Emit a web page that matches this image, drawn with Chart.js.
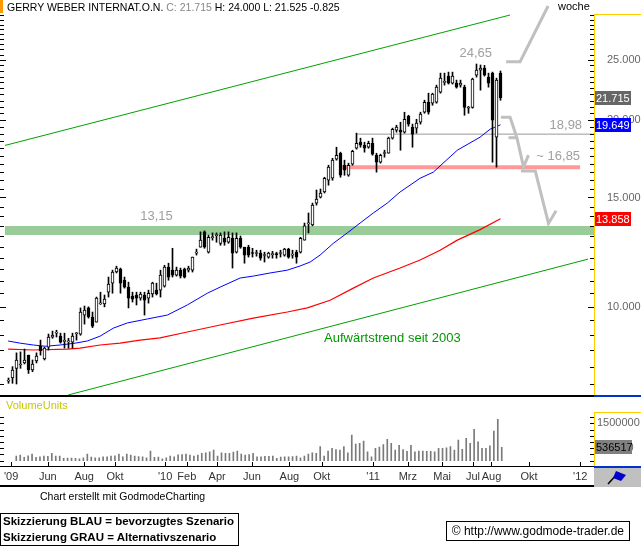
<!DOCTYPE html>
<html>
<head>
<meta charset="utf-8">
<script src="https://cdn.jsdelivr.net/npm/chart.js@4.4.1/dist/chart.umd.min.js"></script>
<style>
  body { margin: 0; background: #fff; font-family: "Liberation Sans", Arial, sans-serif; }
  #wrap { position: relative; width: 641px; height: 546px; overflow: hidden; background: #fff; }
  #wrap canvas { position: absolute; left: 0; }
  .abs { position: absolute; white-space: nowrap; }
</style>
</head>
<body>
<div id="wrap">
  <canvas id="priceChart" width="641" height="398" style="top:0"></canvas>
  <canvas id="volChart" width="641" height="90" style="top:398px"></canvas>

  <div class="abs" style="left:0;top:0;width:3px;height:13px;background:#ff9900"></div>
  <div class="abs" style="left:7px;top:1px;font-size:10.5px;color:#000">GERRY WEBER INTERNAT.O.N. <span style="color:#888">C: 21.715</span> H: 24.000 L: 21.525 -0.825</div>
  <div class="abs" style="left:558px;top:0;font-size:11px;color:#000">woche</div>
  <div class="abs" style="left:594px;top:14px;width:47px;height:1px;background:#ffcc00"></div>
  <div class="abs" style="left:0;top:395px;width:594px;height:2px;background:#000"></div>
  <div class="abs" style="left:594px;top:395px;width:47px;height:2px;background:#0033cc"></div>
  <div class="abs" style="left:6px;top:399px;font-size:11px;color:#c8c800">VolumeUnits</div>
  <div class="abs" style="left:594px;top:412px;width:47px;height:1px;background:#ffcc00"></div>
  <div class="abs" style="left:0;top:466px;width:594px;height:1px;background:#000"></div>
  <div class="abs" style="left:594px;top:466px;width:47px;height:2px;background:#0033cc"></div>
  <div class="abs" style="left:0;top:485px;width:594px;height:2px;background:#000"></div>
  <div class="abs" style="left:594px;top:468px;width:47px;height:19px;background:#c0c0c0">
    <svg width="47" height="19"><line x1="14" y1="16" x2="24" y2="5" stroke="#000" stroke-width="1.5"/><polygon points="22,3 32,7 27,13 19,10" fill="#0000cc"/></svg>
  </div>
  <div class="abs" style="left:40px;top:490px;font-size:10.5px;color:#000">Chart erstellt mit GodmodeCharting</div>
  <div class="abs" style="left:0;top:513px;width:235px;height:31px;border:1px solid #000;font-weight:bold;font-size:11.5px;line-height:15.5px;padding-left:2px">Skizzierung BLAU = bevorzugtes Szenario<br>Skizzierung GRAU = Alternativszenario</div>
  <div class="abs" style="right:11px;top:521px;height:18px;border:1px solid #000;font-size:12px;line-height:18px;padding:0 5px">© http://www.godmode-trader.de</div>
</div>

<script>
// weekly candles, week 0 = first bar (spring 2009)
const openPrices = [7.58,7.67,7.95,8.05,8.11,8.35,7.90,8.17,8.63,8.23,
  8.60,8.93,9.06,8.96,8.79,8.77,8.76,9.04,9.03,9.69,
  9.95,9.62,9.44,10.10,10.10,10.55,10.91,11.37,11.50,11.03,
  10.75,10.40,10.44,10.32,10.44,10.32,10.48,10.63,10.63,10.79,
  11.58,11.45,11.24,11.45,11.50,11.45,11.45,12.20,12.47,13.20,
  12.24,12.92,13.02,12.65,12.89,12.70,12.89,12.24,12.89,12.47,
  12.47,12.20,12.18,12.20,12.09,12.02,12.13,12.15,12.18,12.11,
  12.38,12.11,12.24,12.24,12.80,13.60,13.54,14.69,15.02,15.31,
  15.99,16.11,17.29,17.68,16.91,16.29,16.98,18.01,18.42,18.21,
  18.08,18.35,17.55,17.10,17.66,17.68,18.70,19.26,19.26,19.12,
  20.29,19.48,19.41,19.84,20.59,21.37,21.29,21.37,22.18,23.00,
  23.55,22.94,22.94,22.77,22.60,20.90,20.97,23.64,24.08,24.26,
  23.46,23.81,18.77,23.81];
const highPrices = [7.67,8.00,8.42,8.45,8.54,8.35,8.20,8.42,8.83,8.60,
  9.03,9.13,9.16,9.06,9.06,8.89,9.06,9.08,9.95,10.02,
  9.99,9.80,10.36,10.55,10.44,11.16,11.45,11.62,11.54,11.16,
  10.95,10.55,10.55,10.55,10.55,10.63,10.95,10.91,11.45,11.66,
  11.75,12.42,11.58,11.54,11.54,11.62,12.02,12.38,13.20,13.25,
  13.04,13.15,13.15,13.15,13.20,13.20,13.15,13.15,13.00,12.47,
  12.56,12.42,12.33,12.33,12.24,12.24,12.28,12.24,12.33,12.42,
  12.42,12.33,12.33,12.94,13.64,14.16,14.69,15.42,15.48,16.17,
  16.91,17.35,18.08,17.75,17.23,17.04,17.88,19.05,18.70,18.42,
  18.49,18.70,17.68,17.62,17.88,18.77,19.41,19.62,19.84,20.59,
  20.36,19.70,20.06,20.59,21.53,22.10,22.10,22.77,23.81,23.81,
  23.90,23.90,23.20,23.20,22.77,21.05,23.37,24.63,24.54,24.50,
  23.81,23.90,23.37,24.00];
const lowPrices = [7.52,7.52,7.50,7.95,8.08,7.80,7.85,8.11,8.35,8.20,
  8.51,8.89,8.93,8.73,8.57,8.57,8.57,8.83,8.99,9.37,
  9.58,9.25,9.44,10.08,9.99,10.36,10.51,11.33,10.51,10.71,
  9.95,10.17,10.06,10.24,9.69,10.13,10.36,10.44,10.36,10.75,
  11.03,11.16,11.20,11.12,11.12,11.37,11.37,12.11,12.47,12.42,
  12.20,12.80,12.70,12.56,12.56,12.65,11.54,12.20,12.42,11.75,
  12.02,12.02,12.06,11.88,11.80,11.97,11.97,11.97,12.02,12.06,
  11.97,11.97,11.75,12.20,12.80,13.15,13.50,14.58,14.97,15.25,
  15.70,15.99,17.23,16.17,16.29,16.23,16.91,17.95,18.08,17.75,
  18.01,17.55,16.48,17.04,17.42,17.68,18.63,19.12,17.88,19.05,
  19.55,18.08,19.05,19.70,20.51,20.44,21.13,21.29,22.10,22.77,
  22.86,22.86,22.52,22.60,20.36,20.51,20.90,23.46,22.35,23.55,
  22.60,17.10,16.79,21.525];
const closePrices = [7.60,7.90,8.20,8.08,8.20,7.90,8.08,8.32,8.48,8.57,
  8.93,8.99,9.09,8.76,8.80,8.78,8.96,9.06,9.80,9.87,
  9.62,9.30,10.32,10.13,10.28,10.87,11.37,11.54,10.91,10.75,
  10.32,10.28,10.32,10.48,10.24,10.51,10.91,10.48,11.24,11.58,
  11.16,11.24,11.45,11.20,11.16,11.54,12.02,12.24,12.80,12.47,
  12.94,12.94,13.04,13.04,12.70,12.94,12.20,12.89,12.47,12.11,
  12.11,12.18,12.20,11.97,12.11,12.20,12.15,12.13,12.20,12.38,
  12.02,12.13,12.02,12.89,13.50,13.64,14.58,14.91,15.25,16.11,
  16.79,17.23,17.55,16.29,16.60,16.91,17.81,18.35,18.21,18.01,
  18.35,17.62,17.10,17.55,17.70,18.70,19.33,19.48,19.12,20.06,
  19.70,18.98,19.77,20.44,21.37,20.59,22.02,22.60,23.37,23.03,
  22.94,23.55,22.60,22.94,20.97,20.95,23.29,24.08,24.26,23.64,
  22.94,19.99,23.20,21.715];
// weekly volume in thousand units
const volumeThousands = [187,227,134,200,267,134,160,187,180,294,
  187,187,94,107,110,94,80,120,267,150,
  120,120,160,160,187,200,267,160,267,227,
  187,170,160,120,388,134,150,80,120,187,
  160,240,250,267,227,187,227,294,320,361,
  428,187,321,300,294,348,388,267,227,250,
  294,160,160,174,180,187,94,147,160,160,
  170,187,120,187,267,321,300,562,187,388,
  495,450,428,562,321,1030,668,700,789,361,
  160,495,550,642,856,695,428,615,450,374,
  615,361,388,388,380,374,361,495,495,520,
  562,428,829,455,896,700,1257,762,495,495,
  600,1190,1658,536.517];

// moving averages (week, price)
const ma50Weeks = [-0.1,2.9,6.2,9.2,12.9,16.7,19.7,22.9,26.2,29.7,34.7,39.7,44.7,49.7,52.9,57.9,61.2,65.4,69.7,72.9,75.4,77.9,81.2,84.7,87.9,91.2,94.7,97.9,102.9,106.2,112.2,117.9,120.4,123];
const ma50Values = [8.80,8.73,8.67,8.63,8.67,8.73,8.80,8.96,9.23,9.41,9.55,9.69,10.06,10.51,10.75,11.12,11.20,11.33,11.45,11.63,11.80,12.11,12.65,13.15,13.64,14.16,14.69,15.31,16.11,16.48,17.88,18.77,19.33,19.649];
const ma200Weeks = [-0.1,6.2,14.7,17.9,22.9,27.9,32.9,37.9,44.7,52.9,61.2,69.7,74.7,80.4,86.2,91.2,97.9,102.9,107.9,112.2,117.9,123];
const ma200Values = [8.54,8.51,8.54,8.57,8.67,8.73,8.83,8.90,9.10,9.34,9.58,9.80,9.95,10.24,10.71,11.12,11.54,11.89,12.33,12.80,13.31,13.858];

// trend channel and horizontal levels
const upperTrendWeeks = [-0.88, 125.4];
const upperTrendValues = [18.2, 29.55];
const lowerTrendWeeks = [14.9, 144.9];
const lowerTrendValues = [7.20, 11.93];
const bandLevel = 13.27;
const supportLevel = 16.78;
const resistanceLevel = 18.98;

// scenario sketches (grey)
const scenarioUpWeeks = [124.4, 127.9, 134.9];
const scenarioUpValues = [24.84, 24.84, 30.56];
const scenarioDownAWeeks = [123.1, 125.4, 127.1, 128.75, 130.0];
const scenarioDownAValues = [20.21, 20.21, 18.73, 16.81, 17.56];
const scenarioHookWeeks = [125.0, 127.1];
const scenarioHookValues = [18.73, 18.73];
const scenarioDownBWeeks = [128.1, 131.7, 135.0, 136.9];
const scenarioDownBValues = [16.55, 16.55, 13.62, 14.28];

// axis ticks
const priceTickValues = [10, 15, 20, 25];
const volumeTickValues = [500000, 1500000];
const monthTickLabels = ["'09", 'Jun', 'Aug', 'Okt', "'10", 'Feb', 'Apr', 'Jun', 'Aug', 'Okt', "'11", 'Mrz', 'Mai', 'Jul', 'Aug', 'Okt', "'12"];
const monthTickWeeks = [-1.3, 8.0, 17.2, 25.0, 37.7, 43.2, 50.9, 59.7, 69.2, 77.4, 90.4, 99.2, 107.9, 115.7, 120.4, 129.9, 142.9];

const xMin = -0.875, xMax = 146.375;
const yMin = 7.2, yMax = 29.66;

Chart.defaults.font.family = '"Liberation Sans", Arial, sans-serif';

const weeks = closePrices.map((c, i) => i);
const isUp = closePrices.map((c, i) => c >= openPrices[i]);
const pts = (ws, vs) => ws.map((w, i) => ({ x: w, y: vs[i] }));
const flat = (v, from, to) => [{ x: from, y: v }, { x: to, y: v }];

function lineSet(data, color, width, order, extra) {
  return Object.assign({
    type: 'line', data, borderColor: color, borderWidth: width,
    pointRadius: 0, tension: 0, fill: false, order
  }, extra || {});
}

const notes = [
  { text: '13,15', w: 37.0, v: 13.64, dy: 0, align: 'center', color: '#a0a0a0' },
  { text: '24,65', w: 116.8, v: 24.63, dy: -4, align: 'center', color: '#a0a0a0' },
  { text: '18,98', w: 143.4, v: 18.98, dy: -2, align: 'right', color: '#a0a0a0' },
  { text: '~ 16,85', w: 142.9, v: 16.85, dy: -3, align: 'right', color: '#a0a0a0' },
  { text: 'Aufwärtstrend seit 2003', w: 78.9, v: 8.67, dy: 0, align: 'left', color: '#009900' }
];

const priceDecor = {
  id: 'priceDecor',
  afterDatasetsDraw(chart) {
    const { ctx, scales: { x, y } } = chart;
    ctx.save();
    ctx.font = '13px "Liberation Sans", Arial, sans-serif';
    ctx.textBaseline = 'bottom';
    notes.forEach(n => {
      ctx.fillStyle = n.color;
      ctx.textAlign = n.align;
      ctx.fillText(n.text, x.getPixelForValue(n.w), y.getPixelForValue(n.v) + n.dy);
    });
    ctx.restore();
  },
  afterDraw(chart) {
    const { ctx, chartArea, scales: { y } } = chart;
    ctx.save();
    ctx.strokeStyle = '#000';
    ctx.lineWidth = 1;
    ctx.beginPath();
    for (let v = 7.5; v <= 29.5; v += 0.5) {
      const py = Math.round(y.getPixelForValue(v)) + 0.5;
      const len = v % 5 === 0 ? 6 : 4;
      ctx.moveTo(0, py); ctx.lineTo(len, py);
      ctx.moveTo(chartArea.right - len, py); ctx.lineTo(chartArea.right, py);
    }
    ctx.stroke();
    const boxes = [
      { v: closePrices[closePrices.length - 1], bg: '#666666' },
      { v: ma50Values[ma50Values.length - 1], bg: '#0000ff' },
      { v: ma200Values[ma200Values.length - 1], bg: '#ff0000' }
    ];
    ctx.font = '11px "Liberation Sans", Arial, sans-serif';
    ctx.textBaseline = 'middle';
    ctx.textAlign = 'left';
    boxes.forEach(b => {
      const py = Math.round(y.getPixelForValue(b.v));
      ctx.fillStyle = b.bg;
      ctx.fillRect(chartArea.right + 1, py - 7, 36, 14);
      ctx.fillStyle = '#fff';
      ctx.fillText(b.v.toFixed(3), chartArea.right + 2, py + 0.5);
    });
    ctx.restore();
  }
};

new Chart(document.getElementById('priceChart'), {
  type: 'bar',
  data: {
    datasets: [
      lineSet(pts(scenarioUpWeeks, scenarioUpValues), '#c0c0c0', 3, 0, { clip: false }),
      lineSet(pts(scenarioDownAWeeks, scenarioDownAValues), '#c0c0c0', 3, 0),
      lineSet(pts(scenarioHookWeeks, scenarioHookValues), '#c0c0c0', 3, 0),
      lineSet(pts(scenarioDownBWeeks, scenarioDownBValues), '#c0c0c0', 3, 0),
      {
        type: 'bar', order: 1, grouped: false, barThickness: 3, minBarLength: 1,
        data: weeks.map(i => ({ x: i, y: [openPrices[i], closePrices[i]] })),
        backgroundColor: isUp.map(u => (u ? '#ffffff' : '#000000')),
        borderColor: '#000', borderWidth: 1, borderSkipped: false
      },
      {
        type: 'bar', order: 2, grouped: false, barThickness: 1,
        data: weeks.map(i => ({ x: i, y: [lowPrices[i], highPrices[i]] })),
        backgroundColor: '#000', borderWidth: 0
      },
      lineSet(pts(ma50Weeks, ma50Values), '#0000ff', 1, 3),
      lineSet(pts(ma200Weeks, ma200Values), '#ff0000', 1.2, 3),
      lineSet(pts(upperTrendWeeks, upperTrendValues), '#00a000', 1, 4),
      lineSet(pts(lowerTrendWeeks, lowerTrendValues), '#00a000', 1, 4),
      lineSet(flat(resistanceLevel, 87.2, xMax), '#999999', 1, 5),
      lineSet(flat(supportLevel, 83.4, 142.9), '#ff9999', 4, 5),
      lineSet(flat(bandLevel, xMin, xMax), '#99cc99', 9, 6)
    ]
  },
  options: {
    responsive: false,
    animation: false,
    devicePixelRatio: 1,
    layout: { padding: { left: 5, top: 14, bottom: 3, right: 0 } },
    plugins: { legend: { display: false }, tooltip: { enabled: false } },
    scales: {
      x: { type: 'linear', min: xMin, max: xMax, display: false, offset: false },
      y: {
        type: 'logarithmic', position: 'right', min: yMin, max: yMax,
        grid: { drawOnChartArea: false, drawTicks: true, tickLength: 13, tickColor: 'rgba(0,0,0,0)' },
        border: { display: true, color: '#ffcc00', width: 1 },
        afterBuildTicks: s => { s.ticks = priceTickValues.map(v => ({ value: v })); },
        afterFit: s => { s.width = 47; s.paddingTop = 0; s.paddingBottom = 0; },
        ticks: {
          padding: 0, color: '#666', font: { size: 11 },
          callback: v => Number(v).toFixed(3)
        }
      }
    }
  },
  plugins: [priceDecor]
});

const volDecor = {
  id: 'volDecor',
  afterDraw(chart) {
    const { ctx, chartArea, scales: { x, y } } = chart;
    ctx.save();
    ctx.strokeStyle = '#000';
    ctx.lineWidth = 1;
    ctx.beginPath();
    for (let v = 0; v <= 1750000; v += 250000) {
      const py = Math.round(y.getPixelForValue(v)) + 0.5;
      ctx.moveTo(0, py); ctx.lineTo(4, py);
      ctx.moveTo(chartArea.right - 4, py); ctx.lineTo(chartArea.right, py);
    }
    monthTickWeeks.forEach(w => {
      const px = Math.round(x.getPixelForValue(w)) + 0.5;
      ctx.moveTo(px, chartArea.bottom - 4); ctx.lineTo(px, chartArea.bottom);
    });
    ctx.stroke();
    const lastVol = volumeThousands[volumeThousands.length - 1] * 1000;
    const py = Math.round(y.getPixelForValue(lastVol));
    ctx.fillStyle = '#808080';
    ctx.fillRect(chartArea.right + 1, py - 7, 37, 14);
    ctx.fillStyle = '#000';
    ctx.font = '11px "Liberation Sans", Arial, sans-serif';
    ctx.textBaseline = 'middle';
    ctx.textAlign = 'left';
    ctx.fillText(String(Math.round(lastVol)), chartArea.right + 2, py + 0.5);
    ctx.restore();
  }
};

new Chart(document.getElementById('volChart'), {
  type: 'bar',
  data: {
    datasets: [{
      grouped: false, barThickness: 1,
      data: weeks.map(i => ({ x: i, y: volumeThousands[i] * 1000 })),
      backgroundColor: '#7a7a7a'
    }]
  },
  options: {
    responsive: false,
    animation: false,
    devicePixelRatio: 1,
    layout: { padding: { left: 5, top: 14, right: 0, bottom: 0 } },
    plugins: { legend: { display: false }, tooltip: { enabled: false } },
    scales: {
      x: {
        type: 'linear', min: xMin, max: xMax, offset: false, position: 'bottom',
        grid: { drawOnChartArea: false, drawTicks: false },
        border: { display: false },
        afterBuildTicks: s => { s.ticks = monthTickWeeks.map(v => ({ value: v })); },
        afterFit: s => { s.height = 22; },
        ticks: {
          autoSkip: false, maxRotation: 0, padding: 4, color: '#333', font: { size: 11 },
          callback: (v, i) => monthTickLabels[i]
        }
      },
      y: {
        type: 'linear', position: 'right', min: -212000, max: 1953000,
        grid: { drawOnChartArea: false, drawTicks: false },
        border: { display: true, color: '#ffcc00', width: 1 },
        afterBuildTicks: s => { s.ticks = volumeTickValues.map(v => ({ value: v })); },
        afterFit: s => { s.width = 47; s.paddingTop = 0; s.paddingBottom = 0; },
        ticks: { padding: 3, color: '#666', font: { size: 11 }, callback: v => String(v) }
      }
    }
  },
  plugins: [volDecor]
});
</script>
</body>
</html>
